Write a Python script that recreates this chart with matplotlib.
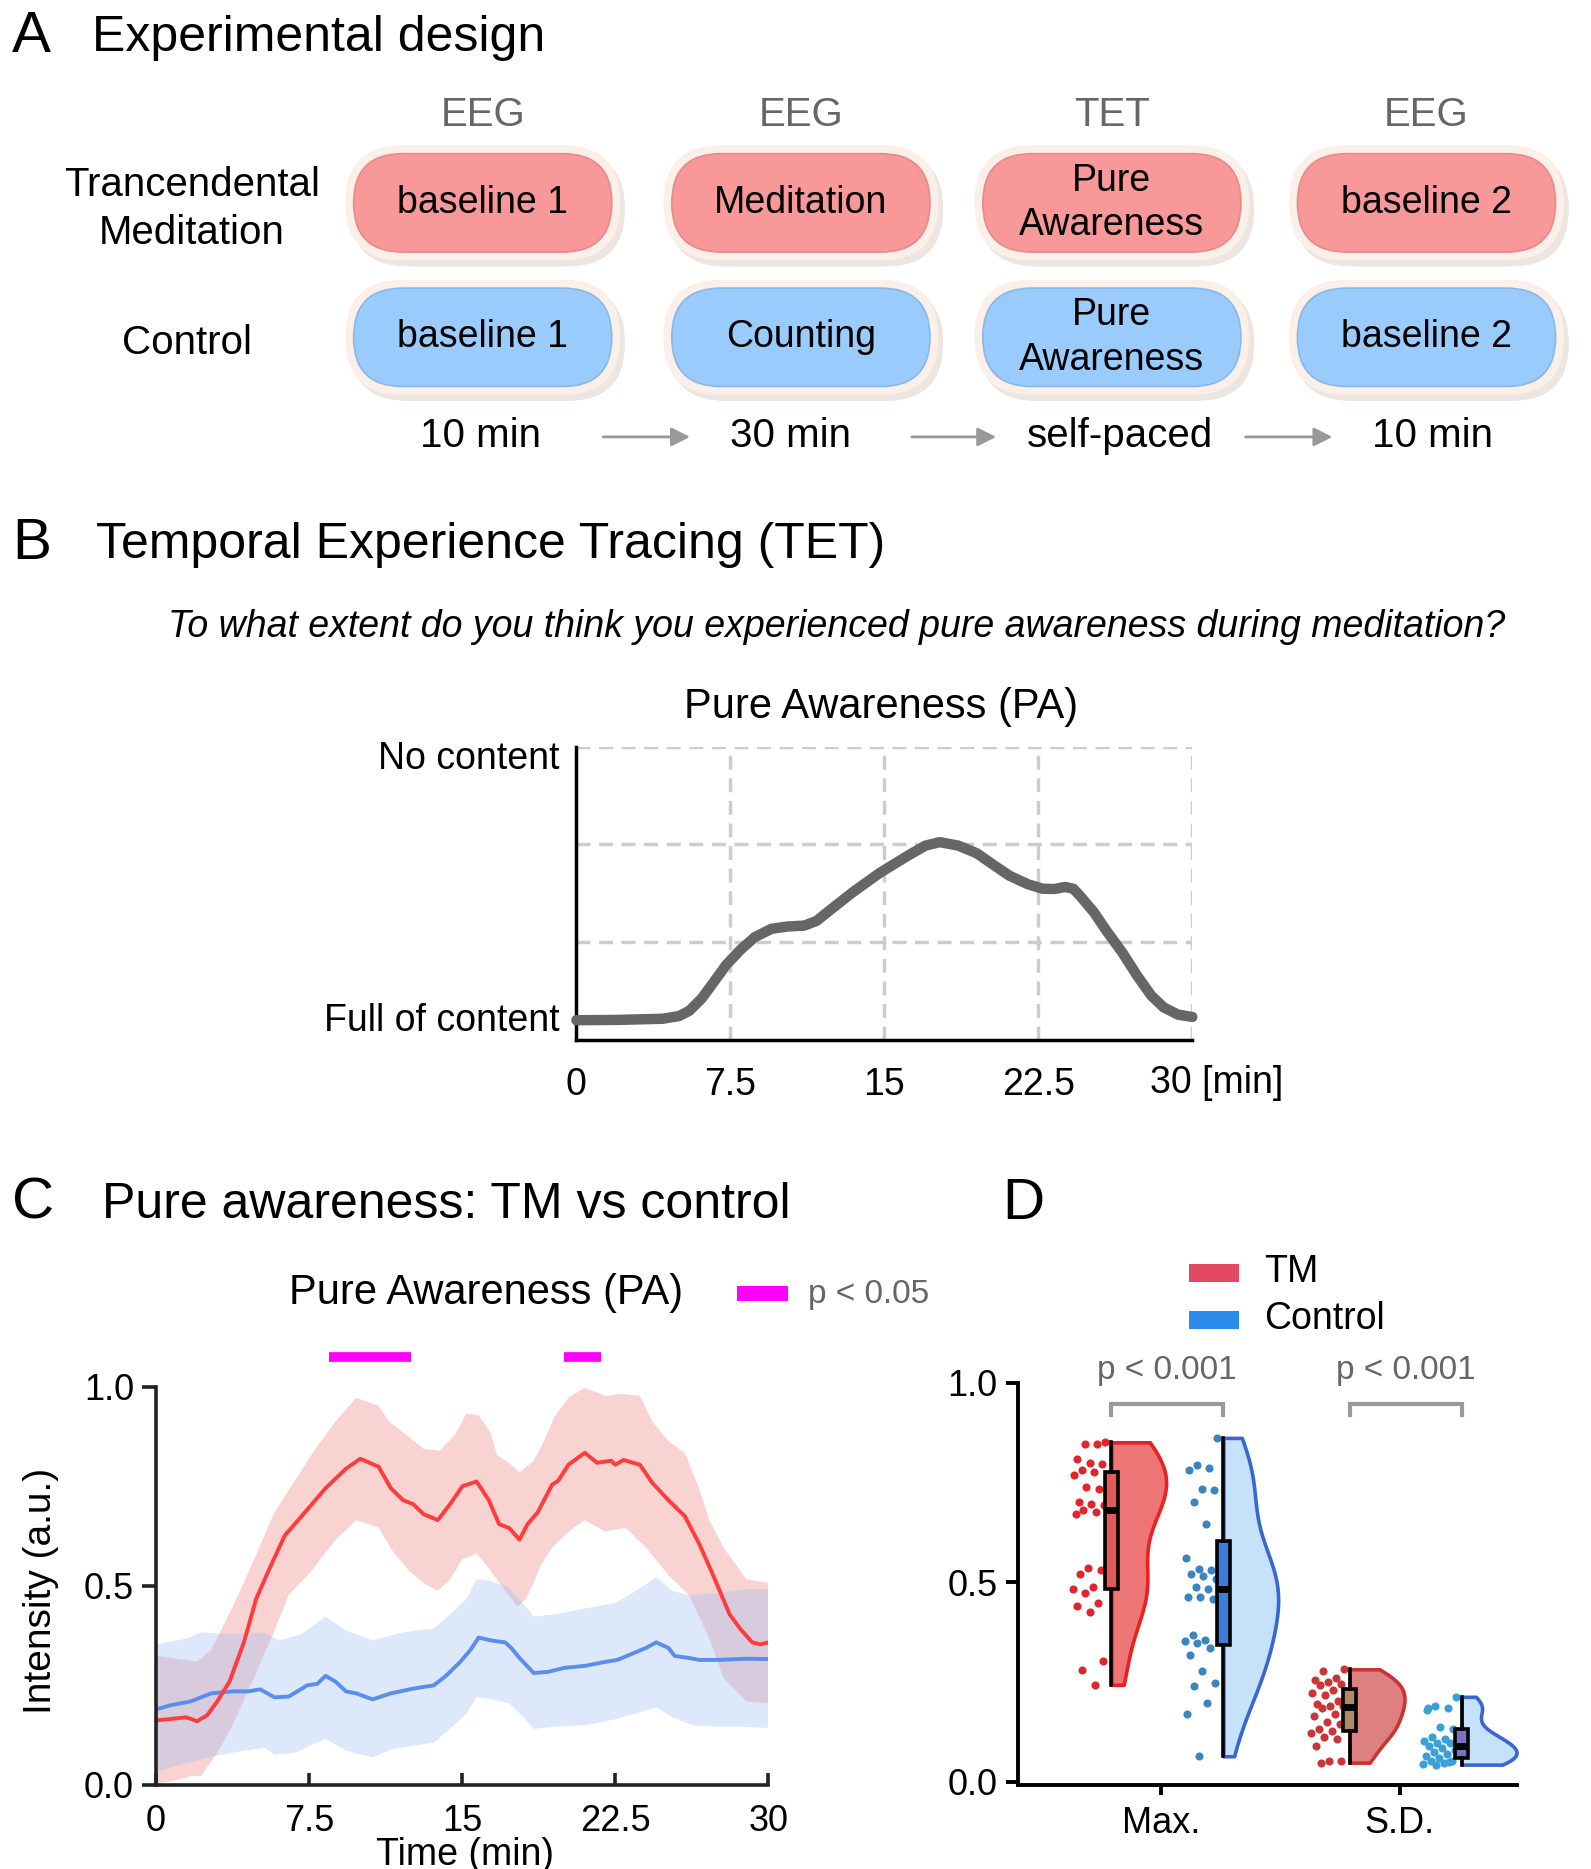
import numpy as np
import matplotlib.pyplot as plt
from matplotlib.patches import FancyBboxPatch, Rectangle

plt.rcParams['font.family'] = ['Liberation Sans', 'DejaVu Sans']

# ---------------- data ----------------
# A: experimental design
stage_tags = ['EEG', 'EEG', 'TET', 'EEG']
tm_stages = ['baseline 1', 'Meditation', 'Pure\nAwareness', 'baseline 2']
ctrl_stages = ['baseline 1', 'Counting', 'Pure\nAwareness', 'baseline 2']
durations = ['10 min', '30 min', 'self-paced', '10 min']
group_names = ['Trancendental\nMeditation', 'Control']

# B: example TET trace (min, rating 0..1)
tet_t = [0, 2.0, 4.2, 5.0, 5.5, 6.1, 6.7, 7.3, 8.0, 8.7, 9.5, 10.3, 11.1, 11.7, 12.3,
         13.5, 14.8, 16.2, 17.0, 17.7, 18.6, 19.5, 20.3, 21.1, 22.0, 22.7, 23.3, 23.8,
         24.2, 24.5, 25.2, 25.8, 26.6, 27.3, 28.0, 28.6, 29.3, 30.0]
tet_pa = [0.066, 0.067, 0.071, 0.080, 0.098, 0.140, 0.197, 0.255, 0.307, 0.350, 0.378,
          0.386, 0.389, 0.405, 0.439, 0.505, 0.570, 0.630, 0.662, 0.674, 0.662, 0.636,
          0.597, 0.559, 0.530, 0.515, 0.514, 0.521, 0.515, 0.493, 0.435, 0.373, 0.296,
          0.219, 0.150, 0.110, 0.085, 0.077]

# C: group time courses
red_t = [0, 0.96, 1.47, 1.75, 2.0, 2.5, 3.0, 3.6, 4.3, 4.9, 5.5, 6.3, 7.3, 8.3, 9.3, 10.0,
         10.9, 11.5, 12.1, 12.6, 13.1, 13.8, 14.4, 15.0, 15.7, 16.3, 16.8, 17.3, 17.8, 18.2,
         18.7, 19.4, 19.7, 20.2, 21.0, 21.6, 22.3, 22.5, 22.9, 23.7, 24.3, 25.1, 25.9, 26.6,
         27.2, 28.1, 28.6, 29.2, 29.6, 30.0]
red_mean = [0.162, 0.167, 0.170, 0.165, 0.160, 0.175, 0.210, 0.260, 0.358, 0.467, 0.537,
            0.626, 0.685, 0.745, 0.794, 0.819, 0.799, 0.745, 0.715, 0.705, 0.680, 0.665,
            0.705, 0.750, 0.762, 0.715, 0.655, 0.645, 0.616, 0.655, 0.685, 0.754, 0.764,
            0.804, 0.834, 0.809, 0.814, 0.804, 0.816, 0.804, 0.759, 0.715, 0.675, 0.606,
            0.537, 0.428, 0.393, 0.358, 0.353, 0.358]
red_up_t = [0, 1.5, 2.0, 2.7, 3.75, 4.8, 5.8, 6.8, 7.8, 8.8, 9.8, 10.9, 11.4, 12.4, 13.1,
            13.9, 14.7, 15.2, 15.8, 16.4, 16.7, 17.4, 17.8, 18.5, 19.0, 19.5, 20.2, 21.0,
            22.0, 22.8, 23.7, 24.3, 25.1, 25.9, 26.6, 27.1, 27.8, 28.9, 30.0]
red_up = [0.324, 0.314, 0.309, 0.339, 0.447, 0.566, 0.685, 0.764, 0.844, 0.913, 0.972,
          0.952, 0.913, 0.873, 0.844, 0.839, 0.883, 0.933, 0.928, 0.883, 0.829, 0.804,
          0.784, 0.814, 0.863, 0.923, 0.972, 0.997, 0.977, 0.982, 0.977, 0.913, 0.863,
          0.834, 0.745, 0.665, 0.596, 0.517, 0.507]
red_lo_t = [0, 1.0, 1.7, 2.2, 3.0, 3.75, 4.8, 5.8, 6.5, 7.6, 8.8, 9.8, 10.9, 11.6, 12.4,
            13.1, 13.8, 14.4, 15.0, 15.7, 16.4, 17.1, 17.7, 18.1, 18.5, 18.8, 19.4, 20.2,
            21.0, 22.0, 23.0, 24.0, 25.1, 26.1, 27.1, 27.8, 28.9, 30.0]
red_lo = [0.002, 0.012, 0.022, 0.022, 0.081, 0.150, 0.269, 0.388, 0.477, 0.537, 0.616,
          0.665, 0.646, 0.586, 0.537, 0.507, 0.487, 0.517, 0.566, 0.581, 0.537, 0.487,
          0.447, 0.467, 0.507, 0.547, 0.596, 0.636, 0.665, 0.636, 0.646, 0.596, 0.527,
          0.477, 0.368, 0.269, 0.210, 0.205]
blue_t = [0, 0.7, 1.7, 2.7, 3.75, 4.5, 5.1, 5.8, 6.5, 7.4, 7.9, 8.3, 8.8, 9.3, 9.8, 10.6,
          11.5, 12.6, 13.6, 14.2, 14.9, 15.4, 15.8, 16.4, 17.1, 17.4, 17.8, 18.5, 19.2,
          20.0, 21.0, 22.0, 22.6, 23.3, 24.0, 24.5, 25.1, 25.4, 26.1, 26.6, 27.6, 28.9, 30.0]
blue_mean = [0.190, 0.200, 0.210, 0.230, 0.235, 0.235, 0.240, 0.220, 0.222, 0.250, 0.254,
             0.274, 0.259, 0.235, 0.230, 0.215, 0.230, 0.242, 0.250, 0.274, 0.309, 0.339,
             0.370, 0.363, 0.358, 0.344, 0.319, 0.281, 0.284, 0.294, 0.299, 0.309, 0.314,
             0.329, 0.344, 0.358, 0.344, 0.324, 0.319, 0.314, 0.314, 0.317, 0.316]
blue_up_t = [0, 1.5, 2.2, 3.75, 5.3, 6.0, 7.1, 8.3, 9.3, 10.6, 12.1, 13.6, 14.4, 15.2, 15.7,
             16.4, 17.2, 17.8, 18.5, 19.5, 21.0, 22.5, 23.5, 24.5, 25.3, 26.1, 27.6, 28.9, 30.0]
blue_up = [0.353, 0.368, 0.383, 0.378, 0.383, 0.363, 0.378, 0.423, 0.388, 0.363, 0.383,
           0.393, 0.428, 0.467, 0.517, 0.512, 0.497, 0.467, 0.423, 0.428, 0.443, 0.457,
           0.487, 0.522, 0.487, 0.477, 0.482, 0.492, 0.492]
blue_lo_t = [0, 1.2, 2.7, 4.3, 5.3, 5.8, 6.8, 8.3, 9.3, 10.6, 11.6, 13.6, 14.4, 15.2, 15.7,
             16.4, 17.3, 18.0, 18.5, 19.5, 21.0, 22.5, 23.5, 24.5, 25.3, 26.3, 27.6, 28.9, 30.0]
blue_lo = [0.032, 0.051, 0.071, 0.086, 0.093, 0.076, 0.081, 0.116, 0.086, 0.069, 0.091,
           0.106, 0.141, 0.180, 0.220, 0.215, 0.205, 0.170, 0.141, 0.146, 0.150, 0.165,
           0.180, 0.195, 0.170, 0.150, 0.146, 0.146, 0.143]
sig_windows = [(8.45, 12.5), (20.0, 21.8)]

# D: per-subject max and s.d.
tm_max = [0.851, 0.846, 0.846, 0.809, 0.798, 0.796, 0.782, 0.777, 0.768, 0.739, 0.734,
          0.702, 0.697, 0.694, 0.681, 0.676, 0.670, 0.537, 0.532, 0.521, 0.489, 0.484,
          0.473, 0.447, 0.441, 0.426, 0.303, 0.279, 0.243]
ctrl_max = [0.862, 0.793, 0.787, 0.782, 0.734, 0.732, 0.702, 0.646, 0.562, 0.534, 0.532,
            0.521, 0.516, 0.509, 0.489, 0.484, 0.463, 0.463, 0.457, 0.369, 0.356, 0.353,
            0.349, 0.335, 0.319, 0.277, 0.247, 0.239, 0.197, 0.170, 0.064]
tm_sd = [0.282, 0.277, 0.261, 0.255, 0.250, 0.245, 0.243, 0.229, 0.223, 0.218, 0.202,
         0.194, 0.191, 0.189, 0.186, 0.170, 0.165, 0.149, 0.144, 0.133, 0.128, 0.122,
         0.112, 0.106, 0.090, 0.053, 0.051, 0.048]
ctrl_sd = [0.213, 0.191, 0.186, 0.181, 0.138, 0.133, 0.112, 0.106, 0.101, 0.096, 0.096,
           0.090, 0.085, 0.080, 0.074, 0.069, 0.064, 0.059, 0.053, 0.053, 0.048, 0.045,
           0.043, 0.050, 0.186]
d_groups = ['Max.', 'S.D.']
d_pvals = ['p < 0.001', 'p < 0.001']

# ---------------- figure ----------------
W, H = 1325, 1557          # layout units of the reference
fig = plt.figure(figsize=(15.91, 18.69), dpi=100)
ax0 = fig.add_axes([0, 0, 1, 1])
ax0.set_xlim(0, W)
ax0.set_ylim(H, 0)
ax0.axis('off')

def box_axes(l, t, r, b):
    return fig.add_axes([l / W, 1 - b / H, (r - l) / W, (b - t) / H])

# ---- panel A ----
ax0.text(10, 31, 'A', fontsize=42, va='center')
ax0.text(77, 32, 'Experimental design', fontsize=36, va='center')
col_x = [402, 667, 926, 1188]
row_y = [169, 281]
bw, bh = 215, 82
for i, cx in enumerate(col_x):
    ax0.text(cx, 96, stage_tags[i], fontsize=29, color='#666666', ha='center', va='center')
    for ry, lab, fc, ec in [(row_y[0], tm_stages[i], '#F89898', '#E68A8A'),
                            (row_y[1], ctrl_stages[i], '#99CCFD', '#88B8E8')]:
        ax0.add_patch(FancyBboxPatch((cx - bw / 2 - 7 + 4, ry - bh / 2 - 7 + 5), bw + 14, bh + 14,
                                     boxstyle='round,pad=0,rounding_size=48',
                                     fc='#E6DAD3', ec='none', alpha=0.7))
        ax0.add_patch(FancyBboxPatch((cx - bw / 2 - 7, ry - bh / 2 - 7), bw + 14, bh + 14,
                                     boxstyle='round,pad=0,rounding_size=48',
                                     fc='#FBEFE9', ec='none'))
        ax0.add_patch(FancyBboxPatch((cx - bw / 2, ry - bh / 2), bw, bh,
                                     boxstyle='round,pad=0,rounding_size=41',
                                     fc=fc, ec=ec, lw=1.2))
        ax0.text(cx, ry, lab, fontsize=27, ha='center', va='center', linespacing=1.3)
ax0.text(160, 174, group_names[0], fontsize=29, ha='center', va='center', linespacing=1.35)
ax0.text(156, 286, group_names[1], fontsize=29, ha='center', va='center')
dur_x = [400, 658, 933, 1193]
for dx, d in zip(dur_x, durations):
    ax0.text(dx, 363, d, fontsize=29, ha='center', va='center')
for a0, a1 in [(500, 577), (757, 832), (1035, 1112)]:
    ax0.annotate('', xy=(a1, 364), xytext=(a0, 364),
                 arrowprops=dict(arrowstyle='-|>', color='#999999', lw=2, mutation_scale=28))

# ---- panel B ----
ax0.text(10, 453, 'B', fontsize=42, va='center')
ax0.text(80, 454, 'Temporal Experience Tracing (TET)', fontsize=36, va='center')
ax0.text(697, 522, 'To what extent do you think you experienced pure awareness during meditation?',
         fontsize=27, style='italic', ha='center', va='center')
ax0.text(734, 589, 'Pure Awareness (PA)', fontsize=30, ha='center', va='center')

axb = box_axes(480, 622, 993, 866)
axb.set_xlim(0, 30)
axb.set_ylim(0, 1)
axb.vlines([7.5, 15, 22.5, 30], 0, 1, colors='#CCCCCC', lw=2.5, ls=(0, (4, 2.5)), zorder=1)
axb.hlines([1 / 3, 2 / 3, 1], 0, 30, colors='#CCCCCC', lw=2.5, ls=(0, (4, 2.5)), zorder=1)
axb.plot(tet_t, tet_pa, color='#666666', lw=7.5, solid_capstyle='round', solid_joinstyle='round',
         clip_on=False, zorder=3)
for s in ['top', 'right']:
    axb.spines[s].set_visible(False)
for s in ['left', 'bottom']:
    axb.spines[s].set_linewidth(2.5)
axb.set_xticks([0, 7.5, 15, 22.5])
axb.set_xticklabels(['0', '7.5', '15', '22.5'])
axb.set_yticks([0.077, 0.97])
axb.set_yticklabels(['Full of content', 'No content'])
axb.tick_params(axis='both', length=0, labelsize=27)
axb.tick_params(axis='x', pad=20)
axb.tick_params(axis='y', pad=12)
ax0.text(958, 902, '30 [min]', fontsize=27, va='center')

# ---- panel C ----
ax0.text(10, 1003, 'C', fontsize=42, va='center')
ax0.text(85, 1004, 'Pure awareness: TM vs control', fontsize=36, va='center')
ax0.text(405, 1077, 'Pure Awareness (PA)', fontsize=30, ha='center', va='center')
ax0.add_patch(Rectangle((614, 1071), 42, 13, fc='#FF00FF', ec='none'))
ax0.text(673, 1078, 'p < 0.05', fontsize=24, color='#666666', va='center')

axc = box_axes(130, 1122, 640, 1487)
axc.set_xlim(0, 30)
axc.set_ylim(0, 1.1)
axc.fill(list(red_up_t) + list(red_lo_t[::-1]), list(red_up) + list(red_lo[::-1]),
         color='#F08080', alpha=0.35, lw=0)
axc.fill(list(blue_up_t) + list(blue_lo_t[::-1]), list(blue_up) + list(blue_lo[::-1]),
         color='#A0C0F5', alpha=0.35, lw=0)
axc.plot(blue_t, blue_mean, color='#5B8DEF', lw=2.8)
axc.plot(red_t, red_mean, color='#FF3B3B', lw=2.8)
for s0, s1 in sig_windows:
    axc.hlines(1.075, s0, s1, colors='#FF00FF', lw=7, clip_on=False)
for s in ['top', 'right']:
    axc.spines[s].set_visible(False)
for s in ['left', 'bottom']:
    axc.spines[s].set_linewidth(2.6)
    axc.spines[s].set_color('#222222')
axc.spines['left'].set_bounds(0, 1)
axc.set_xticks([0, 7.5, 15, 22.5, 30])
axc.set_xticklabels(['0', '7.5', '15', '22.5', '30'])
axc.set_yticks([0, 0.5, 1.0])
axc.set_yticklabels(['0.0', '0.5', '1.0'])
axc.tick_params(axis='both', labelsize=26, width=2.6, color='#222222')
axc.tick_params(axis='x', direction='in', length=9, pad=14)
axc.tick_params(axis='y', direction='out', length=10, pad=6)
axc.set_xlabel('Time (min)', fontsize=27)
axc.xaxis.set_label_coords(0.504, -0.118)
axc.set_ylabel('Intensity (a.u.)', fontsize=28)
axc.yaxis.set_label_coords(-0.158, 0.444)

# ---- panel D ----
ax0.text(835, 1003, 'D', fontsize=42, va='center')
ax0.add_patch(Rectangle((990, 1053), 42, 15, fc='#E24A64', ec='none'))
ax0.add_patch(Rectangle((990, 1092), 42, 15, fc='#2B8CEE', ec='none'))
ax0.text(1053, 1060, 'TM', fontsize=27, va='center')
ax0.text(1053, 1099, 'Control', fontsize=27, va='center')

axd = box_axes(848, 1152, 1263, 1487)
axd.set_xlim(-0.6, 1.49)
axd.set_ylim(-0.008, 1.0)
offsets = [-0.21, 0.26]
series = [(tm_max, 0, 0), (ctrl_max, 0, 1), (tm_sd, 1, 0), (ctrl_sd, 1, 1)]
dot_cols = ['#E3242B', '#3A85C0', '#CC3535', '#3AA0D5']
vio_fc = ['#EE7575', '#C6E2FB', '#DE8080', '#C6E2FB']
vio_ec = ['#E82222', '#3A66D0', '#CC3333', '#3A66D0']
box_fc = ['#E05A5A', '#3B7DD8', '#B08A66', '#7A72C8']
for k, (vals, g, j) in enumerate(series):
    pos = g + offsets[j]
    vals = np.asarray(vals)
    vp = axd.violinplot([vals], positions=[pos], widths=0.46, showextrema=False)
    body = vp['bodies'][0]
    verts = body.get_paths()[0].vertices
    verts[:, 0] = np.maximum(verts[:, 0], pos)
    body.set_facecolor(vio_fc[k])
    body.set_edgecolor(vio_ec[k])
    body.set_linewidth(2.6)
    body.set_alpha(1)
    body.set_clip_on(False)
    jit = -0.025 - 0.14 * ((np.arange(len(vals)) * 0.6180339) % 1)
    axd.scatter(pos + jit, vals, s=34, color=dot_cols[k], lw=0, zorder=3)
    bp = axd.boxplot([vals], positions=[pos], widths=0.055, whis=(0, 100), showcaps=False,
                     showfliers=False, patch_artist=True, manage_ticks=False,
                     boxprops=dict(facecolor=box_fc[k], edgecolor='black', lw=2.6),
                     whiskerprops=dict(color='black', lw=2.6),
                     medianprops=dict(color='black', lw=5))
    for a in bp['boxes'] + bp['whiskers'] + bp['medians']:
        a.set_zorder(4)
for g in range(2):
    x0, x1 = g + offsets[0], g + offsets[1]
    axd.plot([x0, x0, x1, x1], [0.92, 0.946, 0.946, 0.92], color='#999999', lw=3,
             clip_on=False, solid_joinstyle='miter')
    axd.text((x0 + x1) / 2, 1.03, d_pvals[g], fontsize=24, color='#666666',
             ha='center', va='center')
for s in ['top', 'right']:
    axd.spines[s].set_visible(False)
for s in ['left', 'bottom']:
    axd.spines[s].set_linewidth(2.8)
axd.set_xticks([0, 1])
axd.set_xticklabels(d_groups)
axd.set_yticks([0, 0.5, 1.0])
axd.set_yticklabels(['0.0', '0.5', '1.0'])
axd.tick_params(axis='both', labelsize=26, width=2.8, direction='out')
axd.tick_params(axis='x', length=7, pad=8)
axd.tick_params(axis='y', length=9, pad=6)

fig.savefig('out.png', dpi=100)
